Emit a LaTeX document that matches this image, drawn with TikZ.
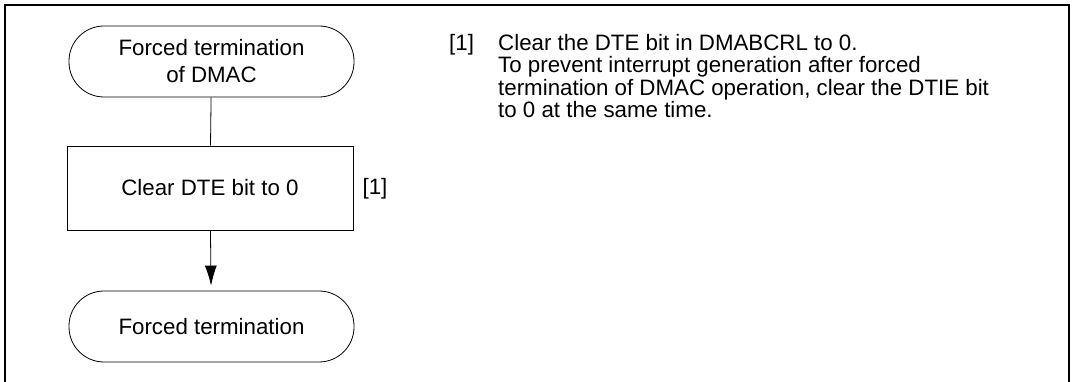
\documentclass[tikz,border=0pt]{standalone}
\usepackage{fontspec}
\setmainfont{Liberation Sans}
\usetikzlibrary{arrows.meta}

\begin{document}
\begin{tikzpicture}[x=1pt,y=-1pt,font=\fontsize{22.3}{27}\selectfont,
    term/.style={draw,line width=0.8pt,rounded corners=35pt,minimum width=285pt,minimum height=71pt,align=center,inner sep=0pt},
    proc/.style={draw,line width=0.8pt,minimum width=286pt,minimum height=84pt,inner sep=0pt},
    note/.style={align=left,inner sep=0pt,font=\fontsize{22.3}{22.4}\selectfont}]
  \useasboundingbox (0,0) rectangle (1072,382);
  % rameček, dole otevřený
  \draw[line width=2.5pt] (5,395) -- (5,5) -- (1069,5) -- (1069,395);
  % vývojový diagram
  \node[term] (start) at (211.5,61.5) {Forced termination\\of DMAC};
  \node[proc] (clr) at (210,188) {Clear DTE bit to 0};
  \node[term] (stop) at (211.5,326.5) {Forced termination};
  \node (lbl) at (375,189) {[1]};
  \draw[line width=0.8pt] (start) -- (clr);
  \draw[line width=0.8pt,-{Latex[length=20pt,width=12pt]},shorten >=5pt] (clr) -- (stop);
  % popis kroku
  \node[note,anchor=north west] (nr) at (449,34) {[1]};
  \node[note,anchor=north west] (txt) at (498,34) {Clear the DTE bit in DMABCRL to 0.\\To prevent interrupt generation after forced\\termination of DMAC operation, clear the DTIE bit\\to 0 at the same time.};
\end{tikzpicture}
\end{document}
